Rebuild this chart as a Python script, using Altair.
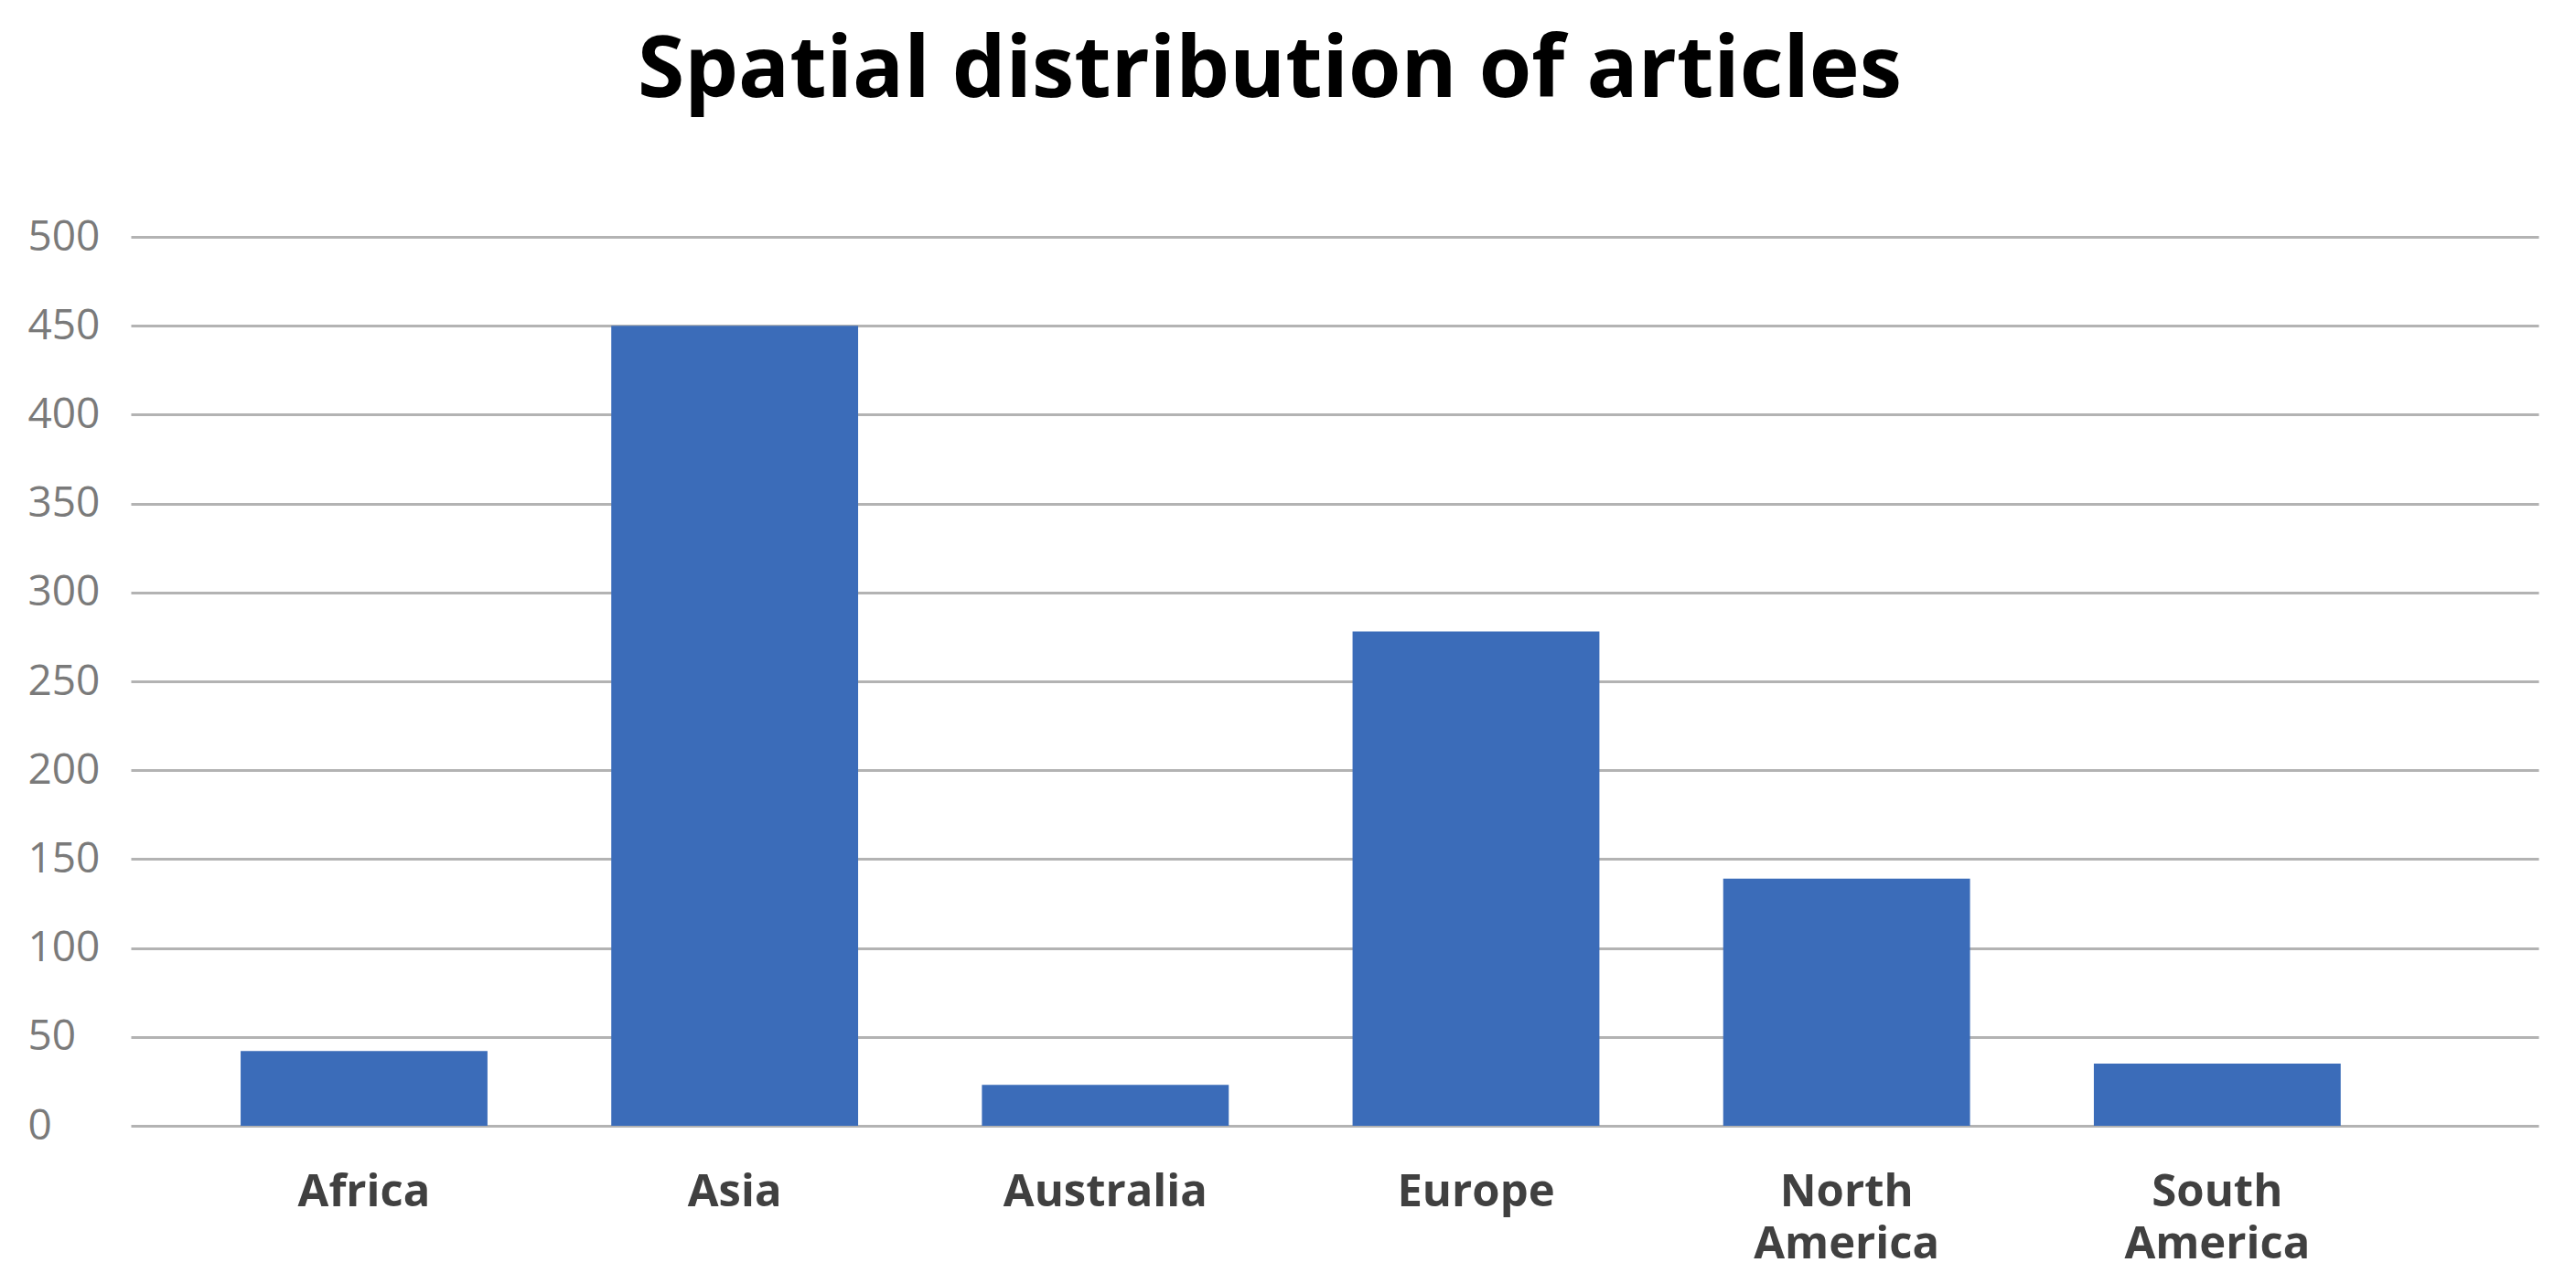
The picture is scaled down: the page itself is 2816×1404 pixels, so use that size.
import altair as alt
import pandas as pd

regions = ["Africa", "Asia", "Australia", "Europe", "North America", "South America"]
articles = [42, 450, 23, 278, 139, 35]
y_ticks = [0, 50, 100, 150, 200, 250, 300, 350, 400, 450, 500]

df = pd.DataFrame({"region": regions, "articles": articles})

chart = (
    alt.Chart(df)
    .mark_bar(color="#3b6cb9")
    .encode(
        x=alt.X(
            "region:N",
            sort=regions,
            title=None,
            scale=alt.Scale(paddingInner=0.334, paddingOuter=0.415, align=0.357),
            axis=alt.Axis(
                labelAngle=0,
                labelExpr="split(datum.label, ' ')",
                labelFont="Open Sans",
                labelFontWeight="bold",
                labelFontSize=49,
                labelLineHeight=57,
                labelColor="#404040",
                labelPadding=48,
                labelLimit=0,
                labelOverlap=False,
                ticks=False,
                tickSize=0,
                domain=False,
                grid=False,
            ),
        ),
        y=alt.Y(
            "articles:Q",
            title=None,
            scale=alt.Scale(domain=[0, 500], nice=False),
            axis=alt.Axis(
                values=y_ticks,
                labelFont="Open Sans",
                labelFontSize=46,
                labelColor="#7a7a7a",
                labelAlign="left",
                labelBaseline="middle",
                labelPadding=113,
                ticks=False,
                tickSize=0,
                domain=False,
                grid=True,
                gridColor="#b3b3b3",
                gridWidth=3,
            ),
        ),
    )
    .properties(
        width=2632,
        height=972,
        autosize=alt.AutoSizeParams(type="none"),
        padding={"left": 135, "top": 251, "right": 30, "bottom": 160},
        title=alt.TitleParams(
            "Spatial distribution of articles",
            font="Open Sans",
            fontWeight="bold",
            fontSize=93,
            color="#000000",
            anchor="middle",
            dx=-71,
            offset=110,
        ),
    )
    .configure_view(stroke=None)
)

chart.save("out.html", embed_options={"renderer": "svg", "actions": False})
